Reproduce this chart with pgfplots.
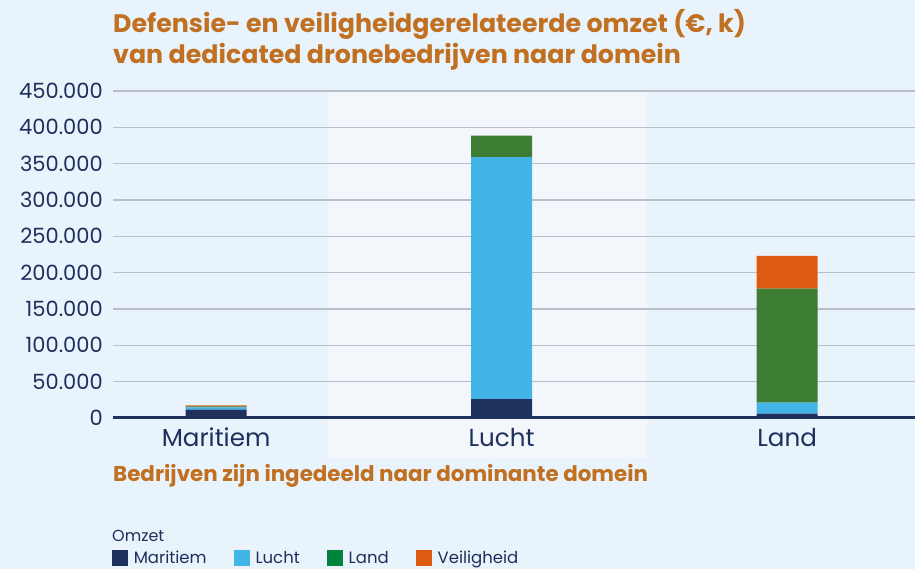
\documentclass[border=0pt]{standalone}
\usepackage{fontspec}
\setmainfont{Poppins}
\usepackage{pgfplots}
\usepackage{pgfplotstable}
\pgfplotsset{compat=1.18}
\definecolor{bgc}{RGB}{233,243,251}
\definecolor{bandc}{RGB}{243,247,252}
\definecolor{navyc}{RGB}{31,50,94}
\definecolor{cyanc}{RGB}{66,180,230}
\definecolor{greenc}{RGB}{62,126,52}
\definecolor{legreen}{RGB}{0,132,61}
\definecolor{orangec}{RGB}{221,90,18}
\definecolor{titlec}{RGB}{192,112,32}
\definecolor{gridc}{RGB}{185,191,200}
\definecolor{textc}{RGB}{31,47,92}

\pgfplotstableread{
x nav cya gre ora
0 11400 3300 1400 1400
1 26000 333000 29500 0
2 6000 15000 157000 45000
}\datatable

\begin{document}
\begin{tikzpicture}
\useasboundingbox (0,0) rectangle (915pt,569pt);
\fill[bgc] (0,0) rectangle (915pt,569pt);
\fill[bandc] (327.7pt,111pt) rectangle (647.3pt,477pt);
\node[anchor=base west, font=\fontsize{25.3}{30}\selectfont\bfseries, text=titlec, inner sep=0pt] at (113pt,536pt) {Defensie- en veiligheidgerelateerde omzet (€, k)};
\node[anchor=base west, font=\fontsize{25.3}{30}\selectfont\bfseries, text=titlec, inner sep=0pt] at (113pt,505pt) {van dedicated dronebedrijven naar domein};
\node[anchor=base west, font=\fontsize{21.4}{24}\selectfont\bfseries, text=titlec, inner sep=0pt] at (113pt,87pt) {Bedrijven zijn ingedeeld naar dominante domein};
\node[anchor=base west, font=\fontsize{16}{19}\selectfont, text=textc, inner sep=0pt] at (112pt,27pt) {Omzet};
\begin{axis}[
  at={(113pt,151pt)}, anchor=south west,
  scale only axis, width=802pt, height=327pt,
  xmin=-0.361, xmax=2.448, ymin=0, ymax=450000,
  ybar stacked, bar width=61pt,
  axis line style={draw=none},
  major tick length=0pt,
  xtick={0,1,2}, xticklabels={Maritiem,Lucht,Land},
  ytick={50000,100000,150000,200000,250000,300000,350000,400000,450000},
  extra y ticks={0}, extra y tick labels={0},
  extra y tick style={grid style={navyc, line width=3pt}},
  ymajorgrids, grid style={gridc, line width=1.5pt},
  scaled y ticks=false,
  /pgf/number format/.cd, fixed, 1000 sep={.}, assume math mode=true,
  /pgfplots/.cd,
  yticklabel style={font=\fontsize{21}{24}\selectfont, text=textc, anchor=east, inner sep=0pt, xshift=-10pt},
  xticklabel style={font=\fontsize{24.6}{28}\selectfont, text=textc, anchor=base, inner sep=0pt, yshift=-29pt},
  legend columns=4,
  legend style={at={(-0.001,-0.399)}, anchor=north west, draw=none, fill=none,
    font=\fontsize{16.5}{20}\selectfont, text=textc, inner sep=0pt,
    /tikz/every even column/.append style={column sep=25.5pt}},
]
\addplot[fill=navyc, draw=none, forget plot] table[x=x, y=nav] {\datatable};
\addplot[fill=cyanc, draw=none, forget plot] table[x=x, y=cya] {\datatable};
\addplot[fill=greenc, draw=none, forget plot] table[x=x, y=gre] {\datatable};
\addplot[fill=orangec, draw=none, forget plot] table[x=x, y=ora] {\datatable};
\addlegendimage{legend image code/.code={\fill[navyc] (0pt,-7.5pt) rectangle (15pt,7.5pt); \path (19pt,0pt);}}
\addlegendentry{Maritiem}
\addlegendimage{legend image code/.code={\fill[cyanc] (0pt,-7.5pt) rectangle (15pt,7.5pt); \path (19pt,0pt);}}
\addlegendentry{Lucht}
\addlegendimage{legend image code/.code={\fill[legreen] (0pt,-7.5pt) rectangle (15pt,7.5pt); \path (19pt,0pt);}}
\addlegendentry{Land}
\addlegendimage{legend image code/.code={\fill[orangec] (0pt,-7.5pt) rectangle (15pt,7.5pt); \path (19pt,0pt);}}
\addlegendentry{Veiligheid}
\end{axis}
\end{tikzpicture}
\end{document}
